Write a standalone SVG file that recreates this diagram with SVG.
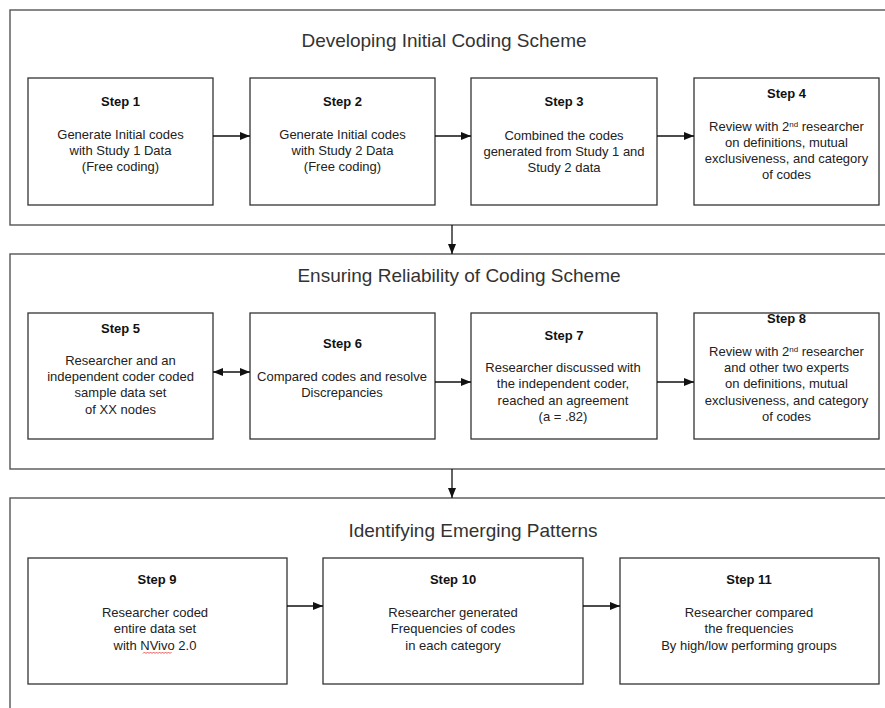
<svg xmlns="http://www.w3.org/2000/svg" width="885" height="708" viewBox="0 0 885 708">
<defs>
<style>
.sec{fill:none;stroke:#555;stroke-width:1.4}
.box{fill:#fff;stroke:#333;stroke-width:1.3}
.title{font-family:"Liberation Sans",Arial,sans-serif;font-size:19px;fill:#333;text-anchor:middle}
.hd{font-family:"Liberation Sans",Arial,sans-serif;font-size:13px;font-weight:bold;fill:#111;text-anchor:middle}
.tx{font-family:"Liberation Sans",Arial,sans-serif;font-size:13px;fill:#222;text-anchor:middle}
.sup{font-size:8px}
.ln{stroke:#111;stroke-width:1.3;fill:none}
</style>
<marker id="ah" viewBox="0 0 10 8" refX="10" refY="4" markerWidth="10" markerHeight="8" markerUnits="userSpaceOnUse" orient="auto-start-reverse">
<path d="M0,0 L10,4 L0,8 Z" fill="#111"/>
</marker>
</defs>
<rect width="885" height="708" fill="#fff"/>

<g id="section1">
<rect class="sec" x="10" y="10" width="890" height="215"/>
<text class="title" x="444" y="47">Developing Initial Coding Scheme</text>
</g>
<g id="section2">
<rect class="sec" x="10" y="254" width="890" height="215"/>
<text class="title" x="459" y="282">Ensuring Reliability of Coding Scheme</text>
</g>
<g id="section3">
<rect class="sec" x="10" y="498" width="890" height="230"/>
<text class="title" x="473" y="537">Identifying Emerging Patterns</text>
</g>

<g id="step1">
<rect class="box" x="28" y="78" width="185" height="127"/>
<text class="hd" x="120.5" y="106">Step 1</text>
<text class="tx" x="120.5" y="139">Generate Initial codes</text>
<text class="tx" x="120.5" y="155">with Study 1 Data</text>
<text class="tx" x="120.5" y="171">(Free coding)</text>
</g>
<g id="step2">
<rect class="box" x="250" y="78" width="185" height="127"/>
<text class="hd" x="342.5" y="106">Step 2</text>
<text class="tx" x="342.5" y="139">Generate Initial codes</text>
<text class="tx" x="342.5" y="155">with Study 2 Data</text>
<text class="tx" x="342.5" y="171">(Free coding)</text>
</g>
<g id="step3">
<rect class="box" x="471" y="78" width="186" height="127"/>
<text class="hd" x="564" y="106">Step 3</text>
<text class="tx" x="564" y="140">Combined the codes</text>
<text class="tx" x="564" y="156">generated from Study 1 and</text>
<text class="tx" x="564" y="172">Study 2 data</text>
</g>
<g id="step4">
<rect class="box" x="694" y="78" width="185" height="127"/>
<text class="hd" x="786.5" y="98">Step 4</text>
<text class="tx" x="786.5" y="131">Review with 2<tspan class="sup" dy="-4">nd</tspan><tspan dy="4"> researcher</tspan></text>
<text class="tx" x="786.5" y="147">on definitions, mutual</text>
<text class="tx" x="786.5" y="163">exclusiveness, and category</text>
<text class="tx" x="786.5" y="179">of codes</text>
</g>

<g id="step5">
<rect class="box" x="28" y="313" width="185" height="126"/>
<text class="hd" x="120.5" y="333">Step 5</text>
<text class="tx" x="120.5" y="365">Researcher and an</text>
<text class="tx" x="120.5" y="381">independent coder coded</text>
<text class="tx" x="120.5" y="397">sample data set</text>
<text class="tx" x="120.5" y="414">of XX nodes</text>
</g>
<g id="step6">
<rect class="box" x="250" y="313" width="185" height="126"/>
<text class="hd" x="342.5" y="348">Step 6</text>
<text class="tx" x="342" y="381">Compared codes and resolve</text>
<text class="tx" x="342" y="397">Discrepancies</text>
</g>
<g id="step7">
<rect class="box" x="471" y="313" width="186" height="126"/>
<text class="hd" x="564" y="340">Step 7</text>
<text class="tx" x="563" y="372">Researcher discussed with</text>
<text class="tx" x="563" y="388">the independent coder,</text>
<text class="tx" x="563" y="405">reached an agreement</text>
<text class="tx" x="563" y="421">(a = .82)</text>
</g>
<g id="step8">
<rect class="box" x="694" y="313" width="185" height="126"/>
<text class="hd" x="786.5" y="323">Step 8</text>
<text class="tx" x="786.5" y="356">Review with 2<tspan class="sup" dy="-4">nd</tspan><tspan dy="4"> researcher</tspan></text>
<text class="tx" x="786.5" y="372">and other two experts</text>
<text class="tx" x="786.5" y="388">on definitions, mutual</text>
<text class="tx" x="786.5" y="405">exclusiveness, and category</text>
<text class="tx" x="786.5" y="421">of codes</text>
</g>

<g id="step9">
<rect class="box" x="28" y="558" width="259" height="126"/>
<text class="hd" x="157" y="584">Step 9</text>
<text class="tx" x="155" y="617">Researcher coded</text>
<text class="tx" x="155" y="633">entire data set</text>
<text class="tx" x="155" y="650">with NVivo 2.0</text>
<path d="M143,653.5 l1.5,-1.5 l1.5,1.5 l1.5,-1.5 l1.5,1.5 l1.5,-1.5 l1.5,1.5 l1.5,-1.5 l1.5,1.5 l1.5,-1.5 l1.5,1.5 l1.5,-1.5 l1.5,1.5 l1.5,-1.5 l1.5,1.5 l1.5,-1.5 l1.5,1.5 l1.5,-1.5 l1.5,1.5 l1.5,-1.5" fill="none" stroke="#e03030" stroke-width="0.8"/>
</g>
<g id="step10">
<rect class="box" x="323" y="558" width="260" height="126"/>
<text class="hd" x="453" y="584">Step 10</text>
<text class="tx" x="453" y="617">Researcher generated</text>
<text class="tx" x="453" y="633">Frequencies of codes</text>
<text class="tx" x="453" y="650">in each category</text>
</g>
<g id="step11">
<rect class="box" x="620" y="558" width="259" height="126"/>
<text class="hd" x="749" y="584">Step 11</text>
<text class="tx" x="749" y="617">Researcher compared</text>
<text class="tx" x="749" y="633">the frequencies</text>
<text class="tx" x="749" y="650">By high/low performing groups</text>
</g>

<g id="connectors">
<line class="ln" x1="213" y1="136" x2="250" y2="136" marker-end="url(#ah)"/>
<line class="ln" x1="435" y1="136" x2="471" y2="136" marker-end="url(#ah)"/>
<line class="ln" x1="657" y1="136" x2="694" y2="136" marker-end="url(#ah)"/>
<line class="ln" x1="452" y1="225" x2="452" y2="254" marker-end="url(#ah)"/>
<line class="ln" x1="213" y1="372" x2="250" y2="372" marker-start="url(#ah)" marker-end="url(#ah)"/>
<line class="ln" x1="435" y1="382" x2="471" y2="382" marker-end="url(#ah)"/>
<line class="ln" x1="657" y1="382" x2="694" y2="382" marker-end="url(#ah)"/>
<line class="ln" x1="452" y1="469" x2="452" y2="498" marker-end="url(#ah)"/>
<line class="ln" x1="287" y1="606" x2="323" y2="606" marker-end="url(#ah)"/>
<line class="ln" x1="583" y1="606" x2="620" y2="606" marker-end="url(#ah)"/>
</g>
</svg>
